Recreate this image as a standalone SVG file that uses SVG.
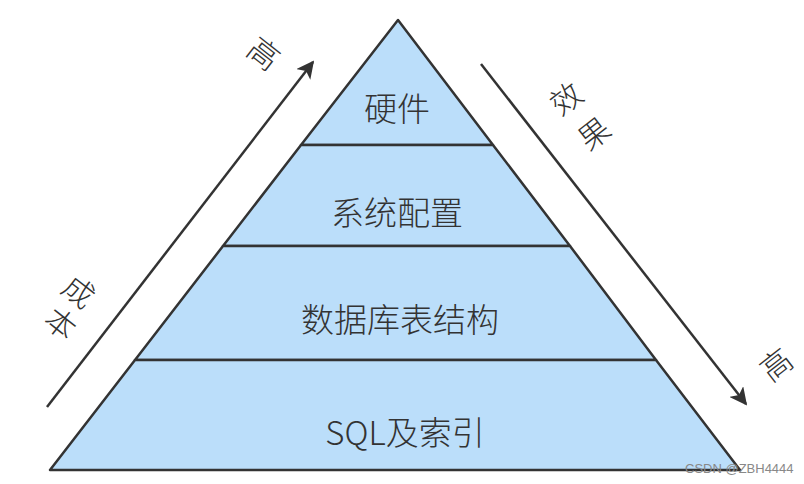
<svg xmlns="http://www.w3.org/2000/svg" width="804" height="484" viewBox="0 0 804 484">
<defs>
<style>
.layer{fill:#bbdefa;stroke:#333;stroke-width:2.5;stroke-linejoin:round}
.lbl{font-family:"Noto Sans CJK SC","Noto Sans",sans-serif;font-size:33px;font-weight:300;fill:#333;text-anchor:middle;dominant-baseline:central}
.side{font-family:"Noto Sans CJK SC",sans-serif;font-size:31px;font-weight:300;fill:#333;text-anchor:middle;dominant-baseline:central}
.conn{stroke:#333;stroke-width:2.5;fill:none}
.wm{font-family:"Liberation Sans",Arial,sans-serif;font-size:13px;fill:#888}
</style>
<marker id="ah" viewBox="0 0 10 10" refX="9" refY="5" markerWidth="7" markerHeight="7" markerUnits="strokeWidth" orient="auto">
<path d="M0,0 L10,5 L0,10 L2.5,5 Z" fill="#333"/>
</marker>
</defs>
<rect width="804" height="484" fill="#fff"/>
<g id="layer-hardware">
<polygon class="layer" points="398,20 493,145 301,145"/>
<text class="lbl" x="397" y="107">硬件</text>
</g>
<g id="layer-config">
<polygon class="layer" points="301,145 493,145 570,246 223,246"/>
<text class="lbl" x="397" y="211">系统配置</text>
</g>
<g id="layer-schema">
<polygon class="layer" points="223,246 570,246 656,360 135,360"/>
<text class="lbl" x="400" y="318">数据库表结构</text>
</g>
<g id="layer-sql">
<polygon class="layer" points="135,360 656,360 740,470 50,470"/>
<text class="lbl" x="405" y="431">SQL及索引</text>
</g>
<g id="connectors">
<line class="conn" x1="47" y1="407" x2="313" y2="62" marker-end="url(#ah)"/>
<line class="conn" x1="481" y1="64" x2="746" y2="404" marker-end="url(#ah)"/>
</g>
<g id="label-cost">
<text class="side" transform="translate(265,52) rotate(38)">高</text>
<text class="side" transform="translate(80,290) rotate(38)">成</text>
<text class="side" transform="translate(62,322) rotate(38)">本</text>
</g>
<g id="label-effect">
<text class="side" transform="translate(565,97) rotate(-38)">效</text>
<text class="side" transform="translate(593,132) rotate(-38)">果</text>
<text class="side" transform="translate(775,363) rotate(-38)">高</text>
</g>
<text class="wm" x="685" y="473">CSDN @ZBH4444</text>
</svg>
